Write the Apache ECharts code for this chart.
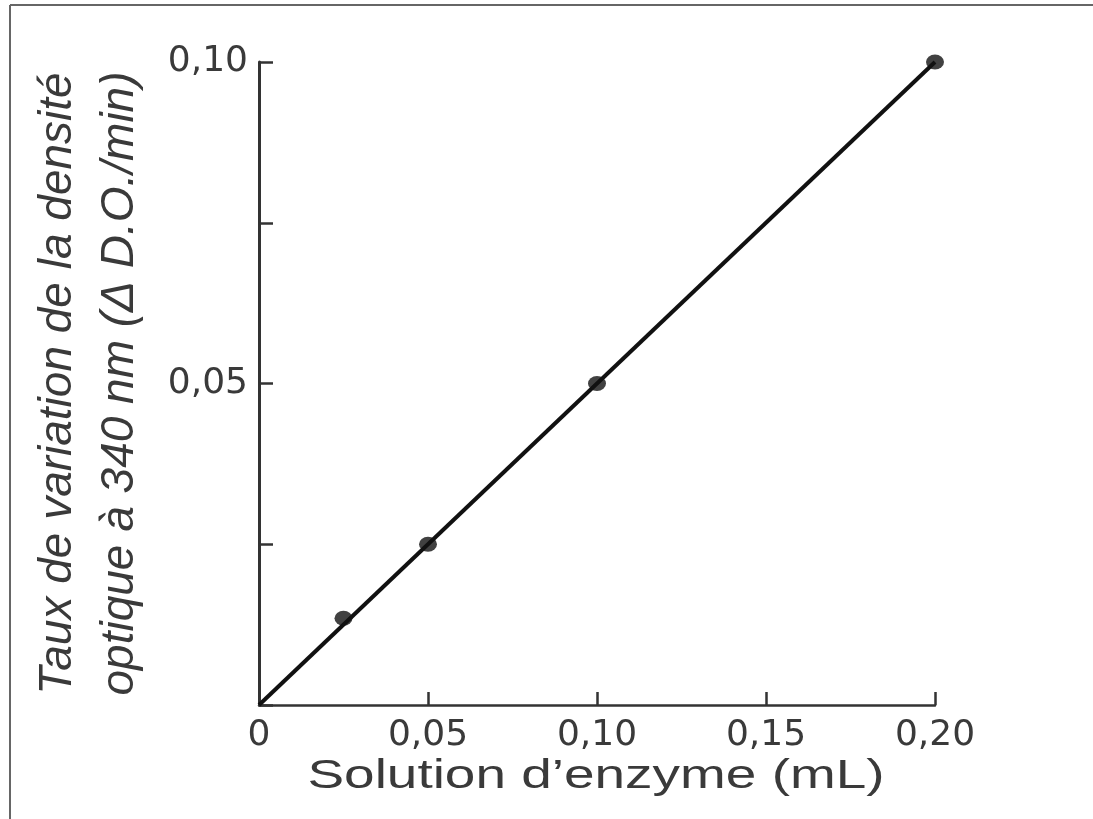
<!DOCTYPE html>
<html>
<head>
<meta charset="utf-8">
<script src="https://cdn.jsdelivr.net/npm/echarts@6/dist/echarts.min.js"></script>
<style>
  html, body { margin: 0; padding: 0; background: #fff; }
  #chart { width: 1093px; height: 819px; }
</style>
</head>
<body>
<div id="chart"></div>
<script>
var chartDom = document.getElementById('chart');
var myChart = echarts.init(chartDom);
var option;

var enzymeVol = [0.025, 0.05, 0.10, 0.20];      // mL
var tauxDO = [0.0135, 0.025, 0.05, 0.10];        // delta D.O./min
// droite de regression (origine -> dernier point)
var droiteX = [0, 0.20];
var droiteY = [0, 0.10];

var xTitle = 'Solution d\u2019enzyme (mL)';
var yTitle = 'Taux de variation de la densité\noptique à 340 nm (Δ D.O./min)';
var yLabelsShown = [0.05, 0.10];

var points = [], droite = [];
for (var i = 0; i < enzymeVol.length; i++) {
  points.push([enzymeVol[i], tauxDO[i]]);
}
for (var j = 0; j < droiteX.length; j++) {
  droite.push([droiteX[j], droiteY[j]]);
}

function virgule(v) {
  if (v === 0) return '0';
  return v.toFixed(2).replace('.', ',');
}

option = {
  backgroundColor: '#fff',
  animation: false,
  grid: { left: 259, right: 158, top: 62, bottom: 114 },
  xAxis: {
    type: 'value',
    min: 0,
    max: 0.20,
    interval: 0.05,
    axisLine: { lineStyle: { color: '#333', width: 2.5 } },
    axisTick: { inside: true, length: 13, lineStyle: { color: '#333', width: 2.5 } },
    splitLine: { show: false },
    axisLabel: {
      margin: 13,
      fontFamily: 'DejaVu Sans',
      fontSize: 36,
      color: '#3a3a3a',
      formatter: function (v) { return virgule(v); }
    }
  },
  yAxis: {
    type: 'value',
    min: 0,
    max: 0.10,
    interval: 0.025,
    name: yTitle,
    nameLocation: 'middle',
    nameRotate: 90,
    nameGap: 108,
    nameTextStyle: {
      fontFamily: 'Liberation Sans',
      fontStyle: 'italic',
      fontSize: 46,
      lineHeight: 62,
      color: '#3a3a3a'
    },
    axisLine: { show: true, lineStyle: { color: '#333', width: 3 } },
    axisTick: { inside: true, length: 14, lineStyle: { color: '#333', width: 2.5 } },
    splitLine: { show: false },
    axisLabel: {
      margin: 11,
      fontFamily: 'DejaVu Sans',
      fontSize: 36,
      color: '#3a3a3a',
      formatter: function (v) {
        for (var k = 0; k < yLabelsShown.length; k++) {
          if (Math.abs(v - yLabelsShown[k]) < 1e-9) return virgule(v);
        }
        return '';
      }
    }
  },
  graphic: [
    { type: 'line', shape: { x1: 10, y1: 5, x2: 10, y2: 819 }, style: { stroke: '#666', lineWidth: 2 } },
    { type: 'line', shape: { x1: 10, y1: 5, x2: 1093, y2: 5 }, style: { stroke: '#666', lineWidth: 2 } },
    {
      type: 'text',
      x: 596,
      y: 777,
      scaleX: 1.34,
      style: {
        text: xTitle,
        x: 0,
        y: 0,
        align: 'center',
        verticalAlign: 'middle',
        fontFamily: 'Liberation Sans',
        fontSize: 41,
        fill: '#3a3a3a'
      }
    }
  ],
  series: [
    {
      type: 'line',
      data: droite,
      showSymbol: false,
      symbol: 'none',
      lineStyle: { color: '#111', width: 4 },
      z: 2
    },
    {
      type: 'scatter',
      data: points,
      symbol: 'circle',
      symbolSize: [18, 15],
      itemStyle: { color: '#111' },
      z: 3
    }
  ]
};

option && myChart.setOption(option);
</script>
</body>
</html>
